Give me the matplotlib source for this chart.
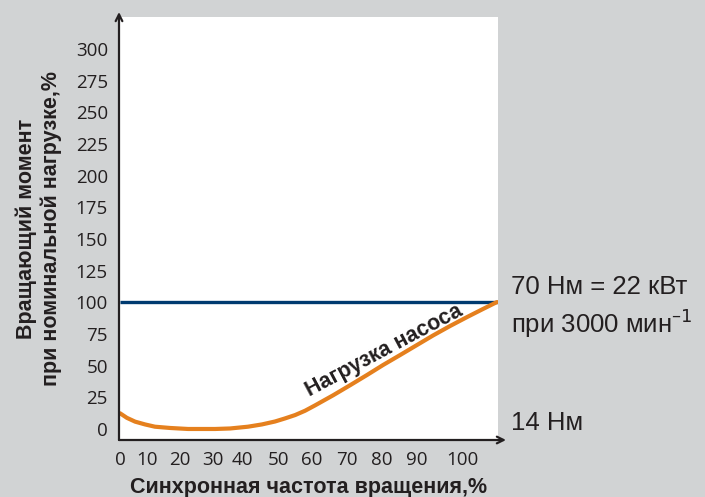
import matplotlib.pyplot as plt

# values
speed = [0, 2.0, 4.4, 7.3, 10.2, 14.6, 19.9, 27.8, 32.2, 37.4, 41.5, 45.3, 48.2, 51.2, 54.1, 57.0,
         62.3, 67.3, 72.2, 76.9, 81.9, 91.5, 96.5, 101.5, 106.1, 110.2]
pump_load = [12.4, 8.8, 5.8, 3.6, 1.8, 0.8, 0.0, 0.0, 0.4, 1.8, 3.6, 5.9, 8.3, 11.0, 14.4, 18.6,
             26.6, 34.6, 42.6, 50.5, 58.4, 73.8, 81.3, 88.4, 94.7, 100.2]
rated_x = [0, 110.5]
rated_y = [100, 100]

ytick_vals = [0, 25, 50, 75, 100, 125, 150, 175, 200, 225, 250, 275, 300]
xtick_pos = [0, 7.8, 17.5, 27.2, 35.9, 46.2, 56.0, 66.4, 76.5, 86.8, 100.2]
xtick_labels = ["0", "10", "20", "30", "40", "50", "60", "70", "80", "90", "100"]

bg = "#d1d3d4"
navy = "#003a70"
orange = "#e5801e"
txt = "#231f20"

W, H = 705, 497
fig = plt.figure(figsize=(W / 100, H / 100), dpi=100, facecolor=bg)
ax = fig.add_axes([119 / W, 1 - 440 / H, (498 - 119) / W, (440 - 17) / H])
ax.set_facecolor("white")
ax.set_xlim(-0.3, 110.5)
ax.set_ylim(-8.7, 325.2)

ax.plot(rated_x, rated_y, color=navy, lw=2.4, solid_capstyle="butt")
ax.plot(speed, pump_load, color=orange, lw=3.0, solid_capstyle="round", solid_joinstyle="round")

for s in ax.spines.values():
    s.set_visible(False)

# axes with arrow heads
arr = dict(arrowstyle="->", lw=1.6, color=txt, mutation_scale=12, shrinkA=0, shrinkB=0)
ax.annotate("", xy=(0, 1 + 5 / 423), xytext=(0, 0), xycoords="axes fraction",
            textcoords="axes fraction", arrowprops=arr, annotation_clip=False)
ax.annotate("", xy=(1 + 8 / 379, 0), xytext=(0, 0), xycoords="axes fraction",
            textcoords="axes fraction", arrowprops=arr, annotation_clip=False)

tick_font = dict(family=["Open Sans", "DejaVu Sans"], size=13.5, color=txt)
ax.set_yticks(ytick_vals)
ax.set_yticklabels([str(v) for v in ytick_vals], **tick_font)
ax.set_xticks(xtick_pos)
ax.set_xticklabels(xtick_labels, **tick_font)
ax.tick_params(axis="both", length=0)
ax.tick_params(axis="y", pad=8)
ax.tick_params(axis="x", pad=8)

lab_font = dict(family=["Liberation Sans", "DejaVu Sans"], weight="bold", size=15.5, color=txt)
fig.text(309 / W, 1 - 487 / H, "Синхронная частота вращения,%", ha="center", va="center", **lab_font)
fig.text(39 / W, 1 - 229 / H, "Вращающий момент\nпри номинальной нагрузке,%", ha="center", va="center",
         rotation=90, linespacing=1.2, **lab_font)

fig.text(384 / W, 1 - 351 / H, "Нагрузка насоса", rotation=28, rotation_mode="anchor",
         ha="center", va="center", family=["Liberation Sans", "DejaVu Sans"], weight="bold",
         size=15.5, color=txt)

right_font = dict(family=["Liberation Sans", "DejaVu Sans"], size=18.5, color=txt, ha="left", va="center")
fig.text(511 / W, 1 - 287 / H, "70 Нм = 22 кВт", **right_font)
fig.text(511 / W, 1 - 323 / H, "при 3000 мин$^{–1}$", **right_font)
fig.text(511 / W, 1 - 423 / H, "14 Нм", **right_font)

fig.savefig("out.png", dpi=100, facecolor=bg)
